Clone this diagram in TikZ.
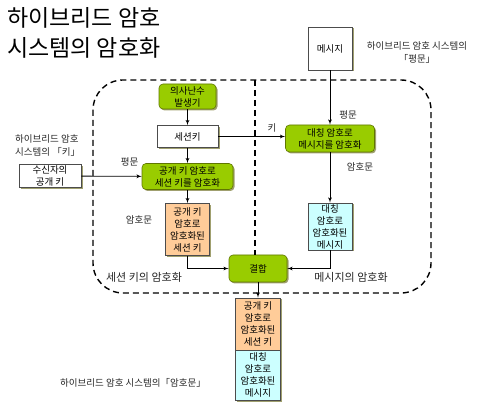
\documentclass[tikz,border=0pt]{standalone}
\usepackage{fontspec}
\setmainfont{Noto Sans CJK KR}
\usetikzlibrary{arrows, arrows.meta, shadows, positioning}

\definecolor{hgreen}{RGB}{153,204,0}
\definecolor{hgreenline}{RGB}{96,118,0}
\definecolor{horange}{RGB}{255,204,153}
\definecolor{hcyan}{RGB}{204,255,255}
\definecolor{hshadow}{RGB}{120,120,50}

\tikzset{
  box/.style={draw=black!70, line width=0.6pt, align=center, inner sep=1pt,
    font=\fontsize{9.5}{12}\selectfont,
    drop shadow={shadow xshift=1.5pt, shadow yshift=-1.5pt, fill=hshadow, opacity=0.7}},
  greenbox/.style={box, fill=hgreen, draw=hgreenline, rounded corners=4pt},
  whitebox/.style={box, fill=white},
  orangebox/.style={box, fill=horange},
  cyanbox/.style={box, fill=hcyan},
  note/.style={font=\fontsize{9.5}{13}\selectfont, text=black!85, inner sep=0pt},
  flow/.style={->, line width=0.8pt},
  area/.style={dash pattern=on 6pt off 4pt, line width=1.4pt, rounded corners=30pt}
}

\begin{document}
\begin{tikzpicture}[x=1pt, y=-1pt, >=latex', node distance=40pt]
  \useasboundingbox (0,0) rectangle (480,409);

  \node [anchor=north west, align=left, inner sep=0pt,
         font=\fontsize{23}{30}\selectfont] (title) at (7,7) {하이브리드 암호\\시스템의 암호화};

  % dashed frame and divider
  \draw [area] (93,80) rectangle (431,293);
  \coordinate (divtop) at (255,80);

  % session key side
  \node [greenbox, minimum width=57pt, minimum height=25pt] (rng) at (187.5,96.5) {의사난수\\발생기};
  \node [whitebox, below of = rng, minimum width=61pt, minimum height=22pt] (sesskey) {세션키};
  \node [greenbox, below of = sesskey, minimum width=91pt, minimum height=26pt] (pkenc) {공개 키 암호로\\세션 키를 암호화};
  \node [orangebox, below of = pkenc, node distance=53pt, minimum width=44pt, minimum height=52pt] (encsesskey) {공개 키\\암호로\\암호화된\\세션 키};
  \node [whitebox, minimum width=62pt, minimum height=22pt] (recvkey) at (50,176) {수신자의\\공개 키};

  % message side
  \node [whitebox, minimum width=44pt, minimum height=43pt] (msg) at (330,48.5) {메시지};
  \node [greenbox, below of = msg, node distance=90pt, minimum width=89pt, minimum height=27pt] (symenc) {대칭 암호로\\메시지를 암호화};
  \node [cyanbox, below of = symenc, node distance=88pt, minimum width=44pt, minimum height=47pt] (encmsg) {대칭\\암호로\\암호화된\\메시지};

  % combined output
  \node [greenbox, minimum width=58pt, minimum height=27pt] (combine) at (258,268.5) {결합};
  \node [orangebox, below of = combine, node distance=55.5pt, minimum width=45pt, minimum height=52pt] (outkey) {공개 키\\암호로\\암호화된\\세션 키};
  \node [cyanbox, below of = outkey, node distance=51pt, minimum width=45pt, minimum height=50pt] (outmsg) {대칭\\암호로\\암호화된\\메시지};

  \draw [area] (divtop) -- (divtop |- combine.north);

  \draw [flow] (rng) -- (sesskey);
  \draw [flow] (sesskey) -- (pkenc);
  \draw [flow] (recvkey) -- (pkenc);
  \draw [flow] (pkenc) -- (encsesskey);
  \draw [flow] (sesskey.east) -- (sesskey.east -| symenc.west);
  \draw [flow] (msg) -- (symenc);
  \draw [flow] (symenc) -- (encmsg);
  \draw [flow] (encsesskey.south) |- (combine.west);
  \draw [flow] (encmsg.south) |- (combine.east);
  \draw [flow] (combine) -- (outkey);

  % labels
  \node [note] (plainA) at (129.5,162) {평문};
  \node [note] (cipherA) at (139,220) {암호문};
  \node [note] (keylbl) at (272,128) {키};
  \node [note] (plainB) at (348,115) {평문};
  \node [note] (cipherB) at (360,167) {암호문};
  \node [note, align=left, anchor=north west] (keynote) at (15,134) {하이브리드 암호\\시스템의 「키」};
  \node [note, align=center] (plainnote) at (417,52) {하이브리드 암호 시스템의\\「평문」};
  \node [note] (ctnote) at (133,383) {하이브리드 암호 시스템의「암호문」};
  \node [note, font=\fontsize{11}{13}\selectfont] (sessarea) at (144,277) {세션 키의 암호화};
  \node [note, font=\fontsize{11}{13}\selectfont] (msgarea) at (351,277) {메시지의 암호화};

\end{tikzpicture}
\end{document}
